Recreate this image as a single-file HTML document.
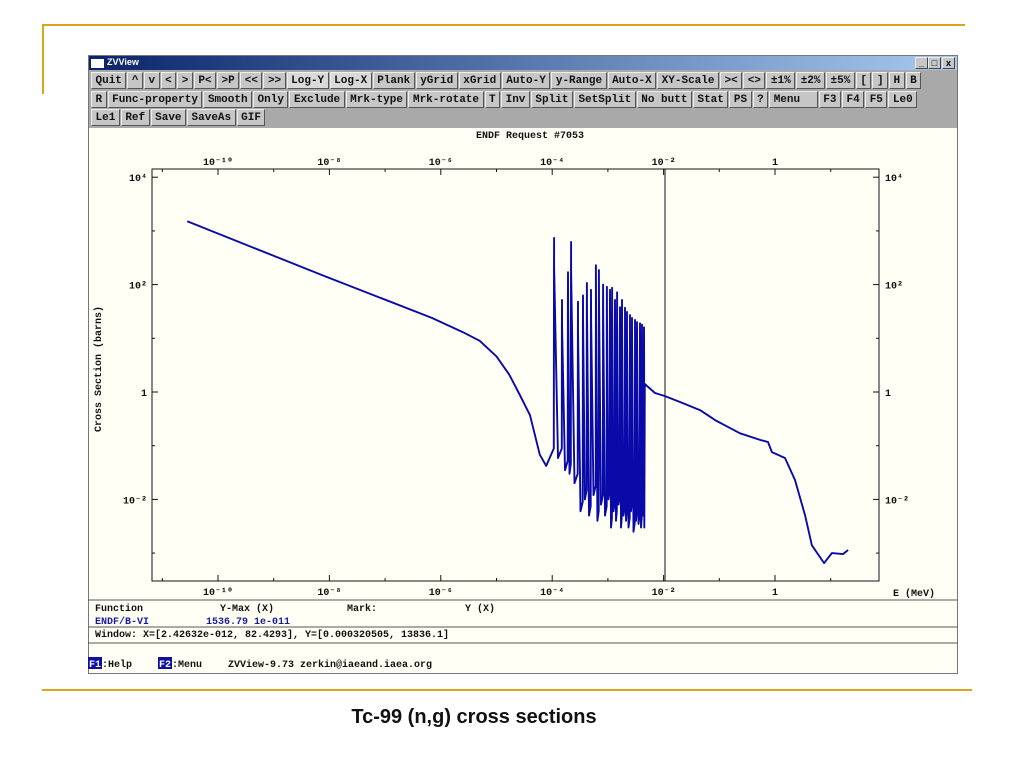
<!DOCTYPE html>
<html><head><meta charset="utf-8">
<style>
*{box-sizing:border-box;margin:0;padding:0}
body{width:1024px;height:768px;background:#fff;position:relative;overflow:hidden;font-family:"Liberation Mono",monospace}
.abs{position:absolute}
.win{left:88px;top:55px;width:870px;height:619px;background:#a9a9a9;border:1px solid #777}
.title{left:0;top:0;width:868px;height:14px;background:linear-gradient(90deg,#0a246a,#a6caf0);color:#fff;font:bold 9px "Liberation Sans",sans-serif;padding:1px 0 0 18px}
.row{left:2px;height:18px;display:flex;gap:1px}
.btn{background:#c6c6c6;border:1px solid;border-color:#eee #555 #555 #eee;font:bold 11px "Liberation Mono",monospace;color:#111;padding:2px 3.5px 0;height:17px;white-space:nowrap;line-height:12px}
.btn.on{background:#d9d9d9}
.canvas{left:0;top:72px;width:868px;height:545px;background:#fffff6}
.wb{width:13px;height:12px;background:#c6c6c6;border:1px solid;border-color:#eee #444 #444 #eee;top:1px;font:bold 9px sans-serif;text-align:center;line-height:10px;color:#000}
</style></head><body>
<div class="abs" style="left:42px;top:24px;width:923px;height:2px;background:#d9a520"></div>
<div class="abs" style="left:42px;top:24px;width:2px;height:70px;background:#d9a520"></div>
<div class="abs" style="left:42px;top:689px;width:930px;height:2px;background:#d9a520"></div>
<div class="abs" style="left:0;top:706px;width:948px;text-align:center;font:bold 20px 'Liberation Sans',sans-serif;color:#111">Tc-99 (n,g) cross sections</div>

<div class="abs win">
 <div class="abs title">ZVView</div>
 <div class="abs" style="left:2px;top:3px;width:13px;height:9px;background:#fff"></div>
 <div class="abs wb" style="left:826px">_</div>
 <div class="abs wb" style="left:839px">□</div>
 <div class="abs wb" style="left:853px">x</div>
 <div class="abs row" style="top:16px">
  <div class="btn">Quit</div><div class="btn">^</div><div class="btn">v</div><div class="btn">&lt;</div><div class="btn">&gt;</div><div class="btn">P&lt;</div><div class="btn">&gt;P</div><div class="btn">&lt;&lt;</div><div class="btn">&gt;&gt;</div><div class="btn on">Log-Y</div><div class="btn on">Log-X</div><div class="btn">Plank</div><div class="btn">yGrid</div><div class="btn">xGrid</div><div class="btn">Auto-Y</div><div class="btn">y-Range</div><div class="btn">Auto-X</div><div class="btn">XY-Scale</div><div class="btn">&gt;&lt;</div><div class="btn">&lt;&gt;</div><div class="btn">±1%</div><div class="btn">±2%</div><div class="btn">±5%</div><div class="btn">[</div><div class="btn">]</div><div class="btn">H</div><div class="btn">B</div>
 </div>
 <div class="abs row" style="top:35px">
  <div class="btn">R</div><div class="btn">Func-property</div><div class="btn">Smooth</div><div class="btn">Only</div><div class="btn">Exclude</div><div class="btn">Mrk-type</div><div class="btn">Mrk-rotate</div><div class="btn">T</div><div class="btn">Inv</div><div class="btn">Split</div><div class="btn">SetSplit</div><div class="btn">No butt</div><div class="btn">Stat</div><div class="btn">PS</div><div class="btn">?</div><div class="btn">Menu&nbsp;&nbsp;</div><div class="btn">F3</div><div class="btn">F4</div><div class="btn">F5</div><div class="btn">Le0</div>
 </div>
 <div class="abs row" style="top:53px">
  <div class="btn">Le1</div><div class="btn">Ref</div><div class="btn">Save</div><div class="btn">SaveAs</div><div class="btn">GIF</div>
 </div>
 <div class="abs canvas"></div>
</div>

<svg class="abs" style="left:0;top:0" width="1024" height="768" font-family="Liberation Mono, monospace" font-weight="bold" font-size="10">
 <text x="530" y="138" text-anchor="middle" fill="#111">ENDF Request #7053</text>
 <rect x="152" y="169" width="727" height="412" fill="none" stroke="#111" stroke-width="1"/>
 <line x1="665" y1="169" x2="665" y2="581" stroke="#111"/>
 <text x="107" y="375" transform="rotate(-90 101 375)" text-anchor="middle" fill="#111">Cross Section (barns)</text>
 <text x="893" y="596" fill="#111">E (MeV)</text>
 <g id="ticks"></g>
 <polyline id="curve" fill="none" stroke="#0a0aa8" stroke-width="1.9" stroke-linejoin="round"/>
 <line x1="88" y1="600" x2="957" y2="600" stroke="#555"/>
 <line x1="88" y1="627" x2="957" y2="627" stroke="#555"/>
 <line x1="88" y1="643" x2="957" y2="643" stroke="#555"/>
 <text x="95" y="611" fill="#111">Function</text>
 <text x="220" y="611" fill="#111">Y-Max (X)</text>
 <text x="347" y="611" fill="#111">Mark:</text>
 <text x="465" y="611" fill="#111">Y (X)</text>
 <text x="95" y="624" fill="#1a1aa0">ENDF/B-VI</text>
 <text x="206" y="624" fill="#1a1aa0">1536.79 1e-011</text>
 <text x="95" y="637" fill="#111">Window: X=[2.42632e-012, 82.4293], Y=[0.000320505, 13836.1]</text>
 <rect x="88" y="657" width="14" height="12" fill="#1010a0"/>
 <text x="89" y="667" fill="#fff">F1</text>
 <text x="102" y="667" fill="#111">:Help</text>
 <rect x="158" y="657" width="14" height="12" fill="#1010a0"/>
 <text x="159" y="667" fill="#fff">F2</text>
 <text x="172" y="667" fill="#111">:Menu</text>
 <text x="228" y="667" fill="#111">ZVView-9.73 zerkin@iaeand.iaea.org</text>
</svg>
<script>
// data (E in MeV, cross section in barns)
const smoothE = [2.8e-11, 7.4e-9, 6.9e-7, 2.5e-6, 5e-6, 1e-5, 1.7e-5, 2.6e-5, 4e-5, 6e-5, 7.8e-5];
const smoothY = [1510, 150, 24, 13, 9.0, 4.6, 2.1, 0.9, 0.37, 0.068, 0.042];
const resE = [1.08e-4,1.50e-4,1.92e-4,2.18e-4,2.9e-4,3.57e-4,4.2e-4,4.97e-4,6.1e-4,6.9e-4,8.2e-4,9.6e-4,1.09e-3,1.19e-3,1.34e-3,1.46e-3,1.65e-3,1.79e-3,2.03e-3,2.2e-3,2.49e-3,2.71e-3,3.07e-3,3.33e-3,3.77e-3,4.09e-3,4.45e-3];
const resPeak = [740,52,170,620,48,63,107,80,230,186,100,91,80,87,52,72,38,52,37,31,27,24,22,20,19,18,16];
const resMin = [0.059,0.035,0.03,0.02,0.006,0.01,0.005,0.012,0.004,0.008,0.005,0.01,0.003,0.006,0.004,0.008,0.003,0.005,0.004,0.003,0.006,0.0025,0.004,0.0035,0.003,0.005,0.003];
const highE = [4.6e-3,7.0e-3,0.0106,0.0197,0.045,0.084,0.126,0.235,0.54,0.75,0.88,1.51,2.29,3.46,4.6,7.6,10.5,16.6,20.5];
const highY = [1.41,0.96,0.84,0.65,0.46,0.30,0.24,0.17,0.128,0.117,0.076,0.059,0.023,0.0051,0.0014,0.00065,0.001,0.00096,0.00114];
const xTickExp = [-10,-8,-6,-4,-2,0];
const xTickLabels = ["10\u207B\u00B9\u2070","10\u207B\u2078","10\u207B\u2076","10\u207B\u2074","10\u207B\u00B2","1"];
const yTickExp = [4,2,0,-2];
const yTickLabels = ["10\u2074","10\u00B2","1","10\u207B\u00B2"];

const X = e => 775 + 55.7*Math.log10(e);
const Y = v => 392 - 53.7*Math.log10(v);
const pts = [];
smoothE.forEach((e,i)=>pts.push([X(e),Y(smoothY[i])]));
resE.forEach((e,i)=>{
  const prevMin = resMin[i>0?i-1:0];
  pts.push([X(e*0.99),Y(prevMin*1.5)]);
  pts.push([X(e*0.997),Y(resPeak[i]*0.3)]);
  pts.push([X(e),Y(resPeak[i])]);
  pts.push([X(e*1.003),Y(resPeak[i]*0.3)]);
  const nx = i<resE.length-1 ? Math.sqrt(e*resE[i+1]) : e*1.01;
  pts.push([X(nx),Y(resMin[i])]);
});
highE.forEach((e,i)=>pts.push([X(e),Y(highY[i])]));
const curve = document.getElementById('curve');
curve.setAttribute('points', pts.map(p=>p[0].toFixed(1)+','+p[1].toFixed(1)).join(' '));

const NS='http://www.w3.org/2000/svg';
const g = document.getElementById('ticks');
function mk(tag, attrs){const el=document.createElementNS(NS,tag);for(const k in attrs)el.setAttribute(k,attrs[k]);g.appendChild(el);return el;}
for(let d=-11; d<=1; d++){
  const x=X(Math.pow(10,d));
  const big = xTickExp.includes(d);
  const l1=mk('line',{x1:x,y1:169,x2:x,y2:169+(big?6:3),stroke:'#111'});
  
  
  const l2=mk('line',{x1:x,y1:581,x2:x,y2:581-(big?6:3),stroke:'#111'});
  
  
}
xTickExp.forEach((d,i)=>{
  const x=X(Math.pow(10,d));
  const t1=mk('text',{x:x,y:165,'text-anchor':'middle',fill:'#111'});t1.textContent=xTickLabels[i];
  
  
  const t2=mk('text',{x:x,y:595,'text-anchor':'middle',fill:'#111'});t2.textContent=xTickLabels[i];
  
  
});
for(let d=-3; d<=4; d++){
  const y=Y(Math.pow(10,d));
  const big=yTickExp.includes(d);
  const a=mk('line',{x1:152,y1:y,x2:152+(big?6:3),y2:y,stroke:'#111'});
  
  
  const b=mk('line',{x1:879,y1:y,x2:879-(big?6:3),y2:y,stroke:'#111'});
  
  
}
yTickExp.forEach((d,i)=>{
  const y=Y(Math.pow(10,d))+4;
  const t1=mk('text',{x:147,y:y,'text-anchor':'end',fill:'#111'});t1.textContent=yTickLabels[i];
  
  
  const t2=mk('text',{x:885,y:y,fill:'#111'});t2.textContent=yTickLabels[i];
  
  
});
</script>
</body></html>
